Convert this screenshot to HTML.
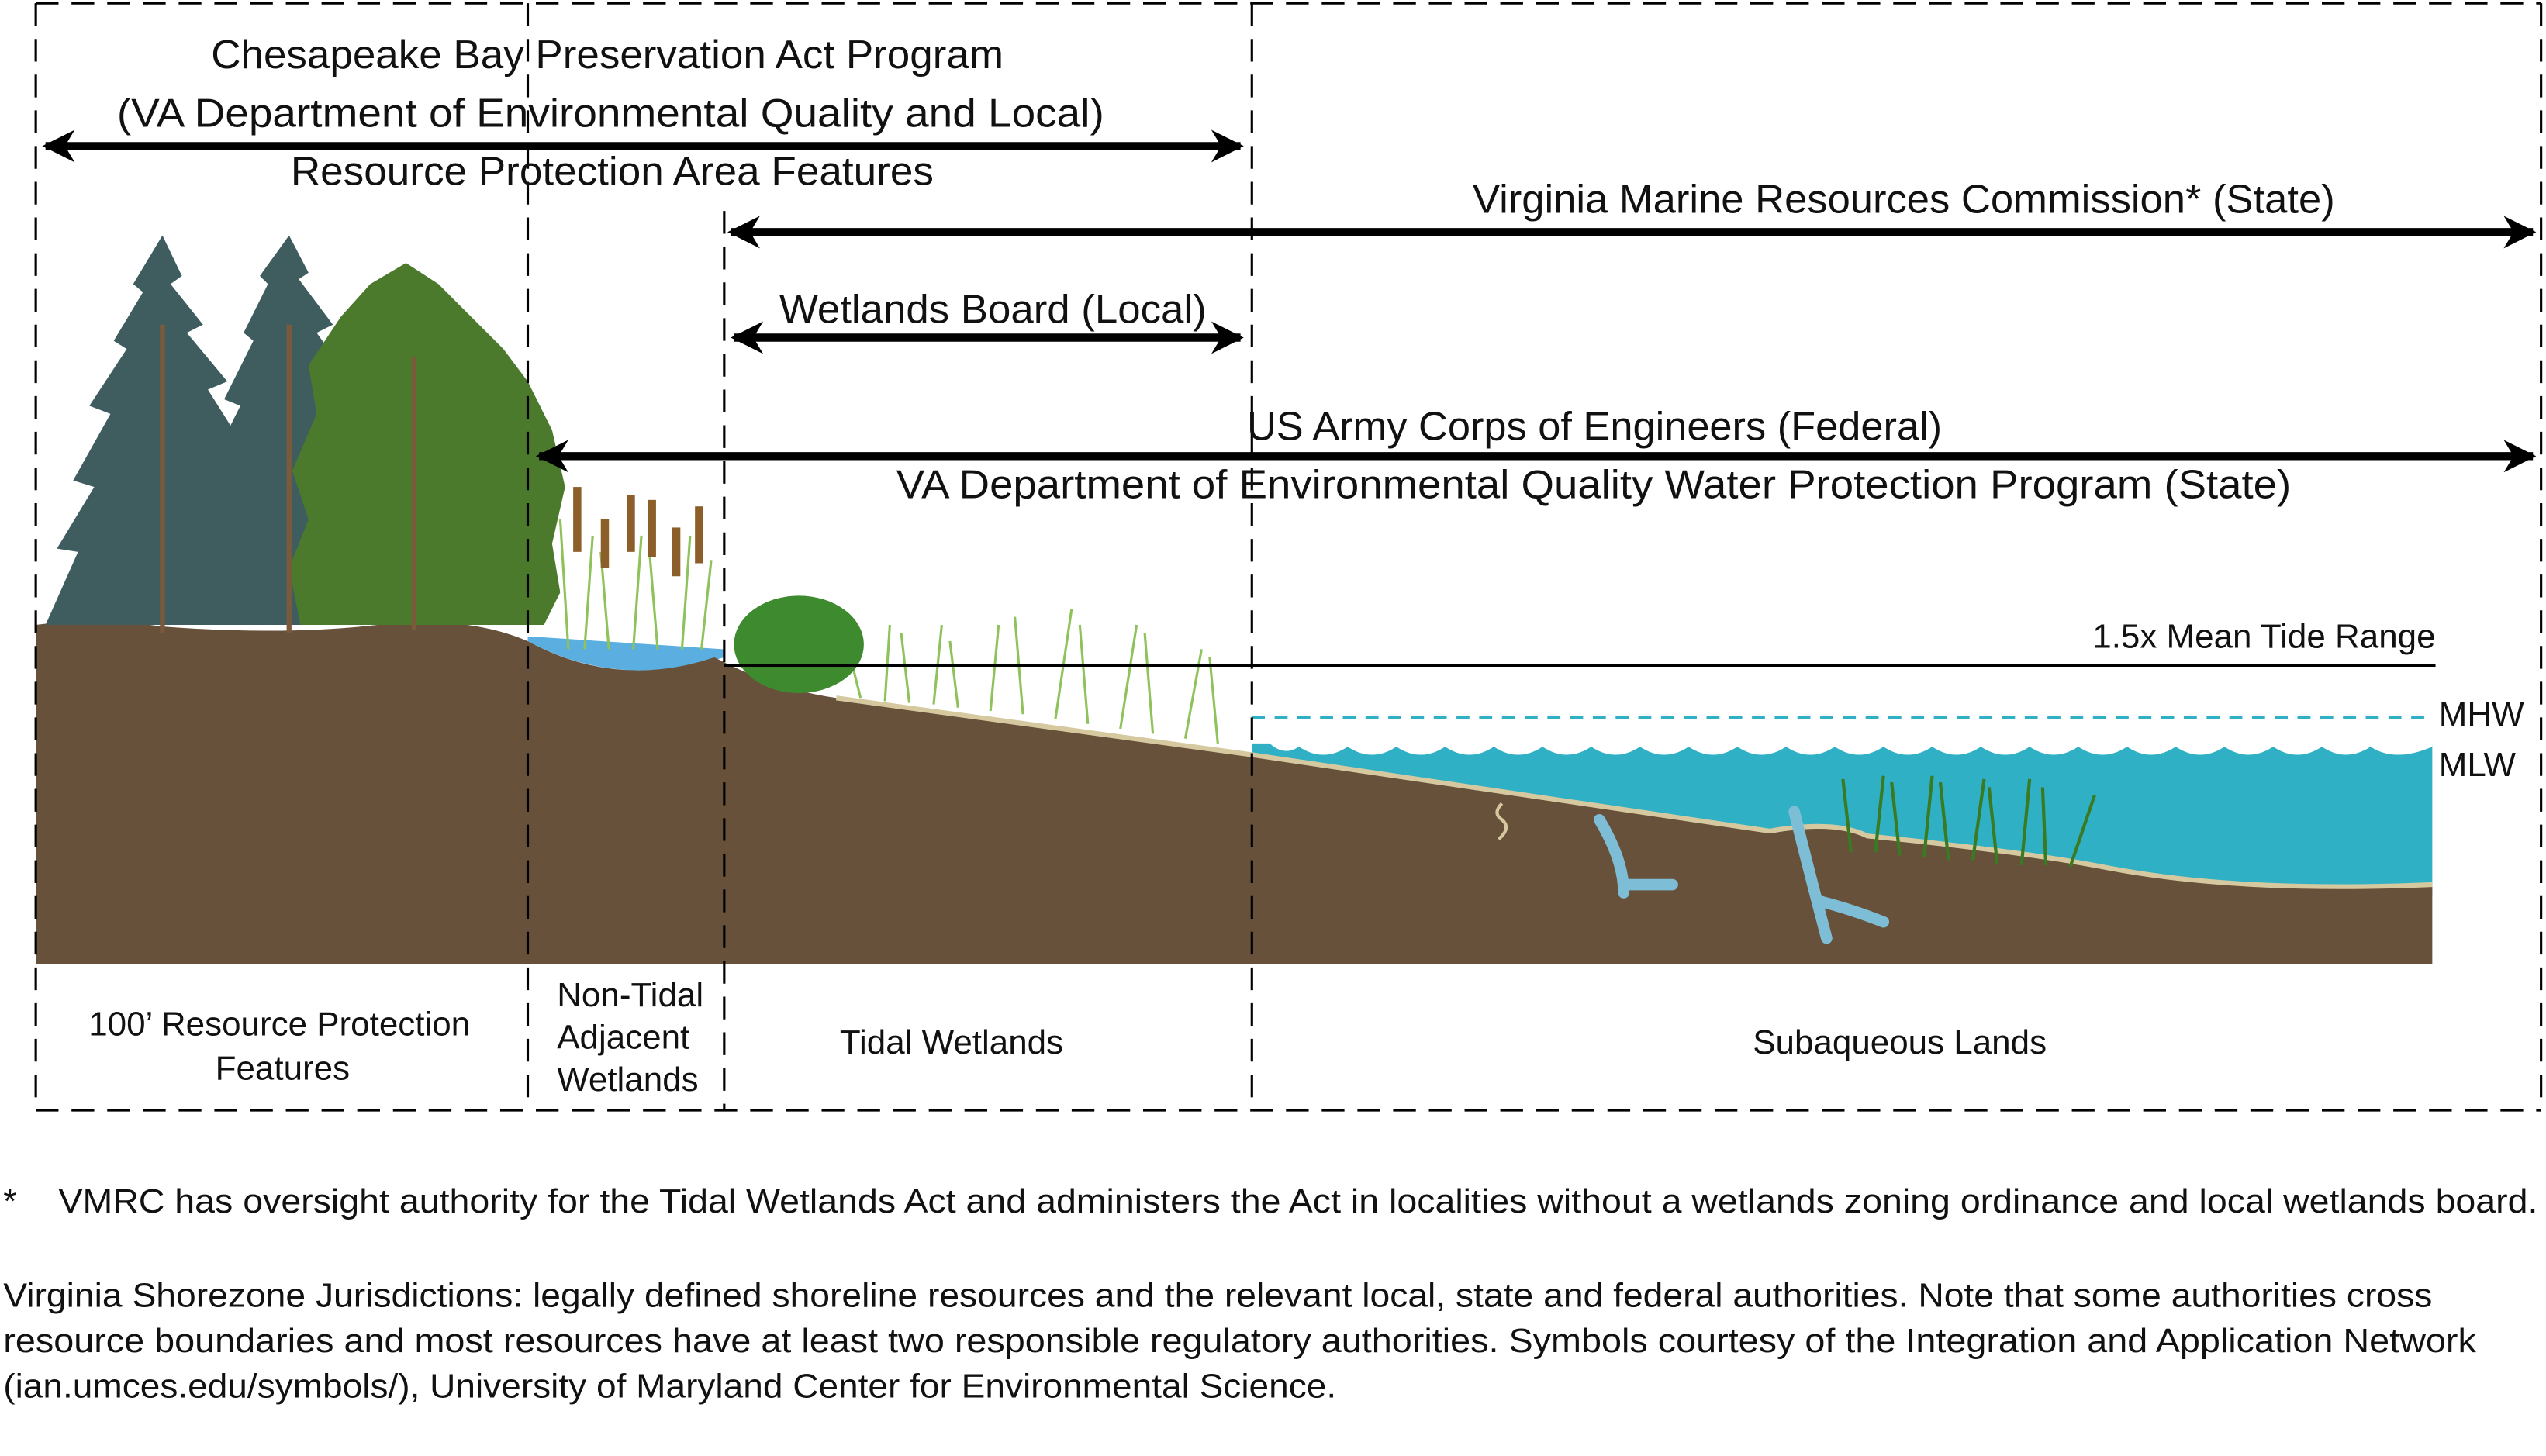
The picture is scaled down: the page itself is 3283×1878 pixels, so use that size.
<!DOCTYPE html>
<html><head><meta charset="utf-8"><style>
html,body{margin:0;padding:0;background:#fff;}
svg{display:block;}
text{font-family:"Liberation Sans",sans-serif;fill:#111;}
</style></head><body>
<svg width="3283" height="1878" viewBox="0 0 1568 897" xmlns="http://www.w3.org/2000/svg">
<defs>
<marker id="ah" viewBox="0 0 10 10" refX="9" refY="5" markerWidth="4" markerHeight="4" orient="auto-start-reverse"><path d="M0,0 L10,5 L0,10 L3,5 z" fill="#000"/></marker>
</defs>
<!-- water -->
<path d="M771,458 L1498,458 L1498,552 L771,552 z" fill="#2fb0c4"/>
<path d="M771,442 Q785,470 800,460 Q815,470 830,460 Q845,470 860,460 Q875,470 890,460 Q905,470 920,460 Q935,470 950,460 Q965,470 980,460 Q995,470 1010,460 Q1025,470 1040,460 Q1055,470 1070,460 Q1085,470 1100,460 Q1115,470 1130,460 Q1145,470 1160,460 Q1175,470 1190,460 Q1205,470 1220,460 Q1235,470 1250,460 Q1265,470 1280,460 Q1295,470 1310,460 Q1325,470 1340,460 Q1355,470 1370,460 Q1385,470 1400,460 Q1415,470 1430,460 Q1445,470 1460,460 Q1475,470 1498,460 L1498,442 z" fill="#fff"/>
<line x1="771" y1="442" x2="1498" y2="442" stroke="#2fb0c4" stroke-width="1.5" stroke-dasharray="8,6"/>
<!-- pond -->
<path d="M325,395 Q380,425 446,405 L446,400 L325,392 z" fill="#5aaee0"/>
<!-- ground -->
<path d="M22,385 Q60,380 100,386 Q180,392 240,384 Q290,380 325,395 Q380,425 440,405 L446,408 Q480,425 515,430 L771,465 L1090,512 Q1130,505 1150,515 Q1250,525 1300,535 Q1380,550 1498,545 L1498,594 L22,594 z" fill="#67513a"/>
<path d="M515,430 L771,465 L1090,512 Q1130,505 1150,515 Q1250,525 1300,535 Q1380,550 1498,545" fill="none" stroke="#d6c9a0" stroke-width="3"/>
<!-- trees -->
<g fill="#3f5d5f">
<path d="M100,145 L112,170 L105,175 L125,200 L115,205 L140,235 L128,240 L150,275 L135,278 L160,320 L145,322 L165,385 L28,385 L48,340 L35,338 L58,300 L45,296 L68,255 L55,250 L78,215 L70,210 L88,180 L82,175 z"/>
<path d="M178,145 L190,168 L184,172 L205,200 L195,205 L220,240 L208,244 L232,285 L218,288 L240,330 L225,333 L245,385 L120,385 L130,340 L120,336 L138,295 L128,290 L148,250 L138,246 L156,210 L150,205 L165,175 L160,170 z"/>
</g>
<g fill="#4b7a2c">
<path d="M250,162 L270,175 L290,195 L310,215 L325,235 L340,265 L348,300 L340,335 L345,365 L335,385 L185,385 L178,350 L190,320 L180,290 L195,255 L190,225 L210,195 L228,175 z"/>
</g>
<g stroke="#7a5a3a" stroke-width="3"><line x1="100" y1="200" x2="100" y2="390"/><line x1="178" y1="200" x2="178" y2="390"/><line x1="255" y1="220" x2="255" y2="388"/></g>
<!-- reeds/grass -->
<g stroke="#8ec25a" stroke-width="1.5" fill="none">
<path d="M350,400 L345,320 M360,400 L365,330 M375,400 L370,340 M390,400 L395,330 M405,400 L400,340 M420,400 L425,330 M432,400 L438,345"/>
<path d="M530,430 L520,390 M545,432 L548,385 M560,433 L555,390 M575,434 L580,385 M590,436 L585,395 M610,438 L615,385 M630,440 L625,380 M650,443 L660,375 M670,446 L665,385 M690,449 L700,385 M710,452 L705,390 M730,455 L740,400 M750,458 L745,405"/>
</g>
<g fill="#8b5e2a"><rect x="353" y="300" width="5" height="40"/><rect x="370" y="320" width="5" height="30"/><rect x="386" y="305" width="5" height="35"/><rect x="399" y="308" width="5" height="35"/><rect x="414" y="325" width="5" height="30"/><rect x="428" y="312" width="5" height="35"/></g>
<ellipse cx="492" cy="397" rx="40" ry="30" fill="#3e8a2e"/>
<g stroke="#3a7a22" stroke-width="2" fill="none"><path d="M1140,525 L1135,480 M1155,525 L1160,478 M1170,527 L1165,482 M1185,528 L1190,478 M1200,530 L1195,482 M1215,530 L1222,480 M1230,532 L1225,485 M1245,533 L1250,480 M1260,533 L1258,485 M1275,534 L1290,490"/></g>
<g stroke="#7dbed6" stroke-width="7" fill="none" stroke-linecap="round"><path d="M985,505 Q1000,530 1000,550 M1000,545 L1030,545"/><path d="M1105,500 Q1115,540 1125,578 M1120,555 Q1140,560 1160,568"/></g>
<path d="M925,495 q-6,6 0,10 q6,5 -2,12" stroke="#d6c9a0" stroke-width="2" fill="none"/>
<!-- dashed frame -->
<g stroke="#000" stroke-width="1.5" stroke-dasharray="14,8" fill="none">
<line x1="22" y1="2" x2="1565" y2="2"/><line x1="22" y1="684" x2="1565" y2="684"/>
<line x1="22" y1="2" x2="22" y2="684"/><line x1="325" y1="2" x2="325" y2="684"/>
<line x1="446" y1="130" x2="446" y2="684"/><line x1="771" y1="2" x2="771" y2="684"/>
<line x1="1565" y1="2" x2="1565" y2="684"/>
</g>
<line x1="446" y1="410" x2="1500" y2="410" stroke="#000" stroke-width="1.5"/>
<!-- arrows -->
<g stroke="#000" stroke-width="5" marker-start="url(#ah)" marker-end="url(#ah)">
<line x1="28" y1="90" x2="764" y2="90"/>
<line x1="450" y1="143" x2="1560" y2="143"/>
<line x1="452" y1="208" x2="764" y2="208"/>
<line x1="332" y1="281" x2="1560" y2="281"/>
</g>
<g font-size="25" lengthAdjust="spacingAndGlyphs">
<text x="130" y="42" textLength="488" lengthAdjust="spacingAndGlyphs">Chesapeake Bay Preservation Act Program</text>
<text x="72" y="78" textLength="608" lengthAdjust="spacingAndGlyphs">(VA Department of Environmental Quality and Local)</text>
<text x="179" y="114" textLength="396" lengthAdjust="spacingAndGlyphs">Resource Protection Area Features</text>
<text x="907" y="131" textLength="531" lengthAdjust="spacingAndGlyphs">Virginia Marine Resources Commission* (State)</text>
<text x="480" y="199" textLength="263" lengthAdjust="spacingAndGlyphs">Wetlands Board (Local)</text>
<text x="768" y="271" textLength="428" lengthAdjust="spacingAndGlyphs">US Army Corps of Engineers (Federal)</text>
<text x="552" y="307" textLength="859" lengthAdjust="spacingAndGlyphs">VA Department of Environmental Quality Water Protection Program (State)</text>
</g>
<g font-size="21">
<text x="1500" y="399" text-anchor="end">1.5x Mean Tide Range</text>
<text x="1502" y="447">MHW</text>
<text x="1502" y="478">MLW</text>
<text x="172" y="638" text-anchor="middle">100’ Resource Protection</text>
<text x="174" y="665" text-anchor="middle">Features</text>
<text x="343" y="620">Non-Tidal</text>
<text x="343" y="646">Adjacent</text>
<text x="343" y="672">Wetlands</text>
<text x="586" y="649" text-anchor="middle">Tidal Wetlands</text>
<text x="1170" y="649" text-anchor="middle">Subaqueous Lands</text>
<text x="2" y="747">*</text>
<text x="36" y="747" textLength="1527" lengthAdjust="spacingAndGlyphs">VMRC has oversight authority for the Tidal Wetlands Act and administers the Act in localities without a wetlands zoning ordinance and local wetlands board.</text>
<text x="2" y="805" textLength="1496" lengthAdjust="spacingAndGlyphs">Virginia Shorezone Jurisdictions: legally defined shoreline resources and the relevant local, state and federal authorities.  Note that some authorities cross</text>
<text x="2" y="833" textLength="1523" lengthAdjust="spacingAndGlyphs">resource boundaries and most resources have at least two responsible regulatory authorities.  Symbols courtesy of the Integration and Application Network</text>
<text x="2" y="861" textLength="821" lengthAdjust="spacingAndGlyphs">(ian.umces.edu/symbols/), University of Maryland Center for Environmental Science.</text>
</g>
</svg>
</body></html>
